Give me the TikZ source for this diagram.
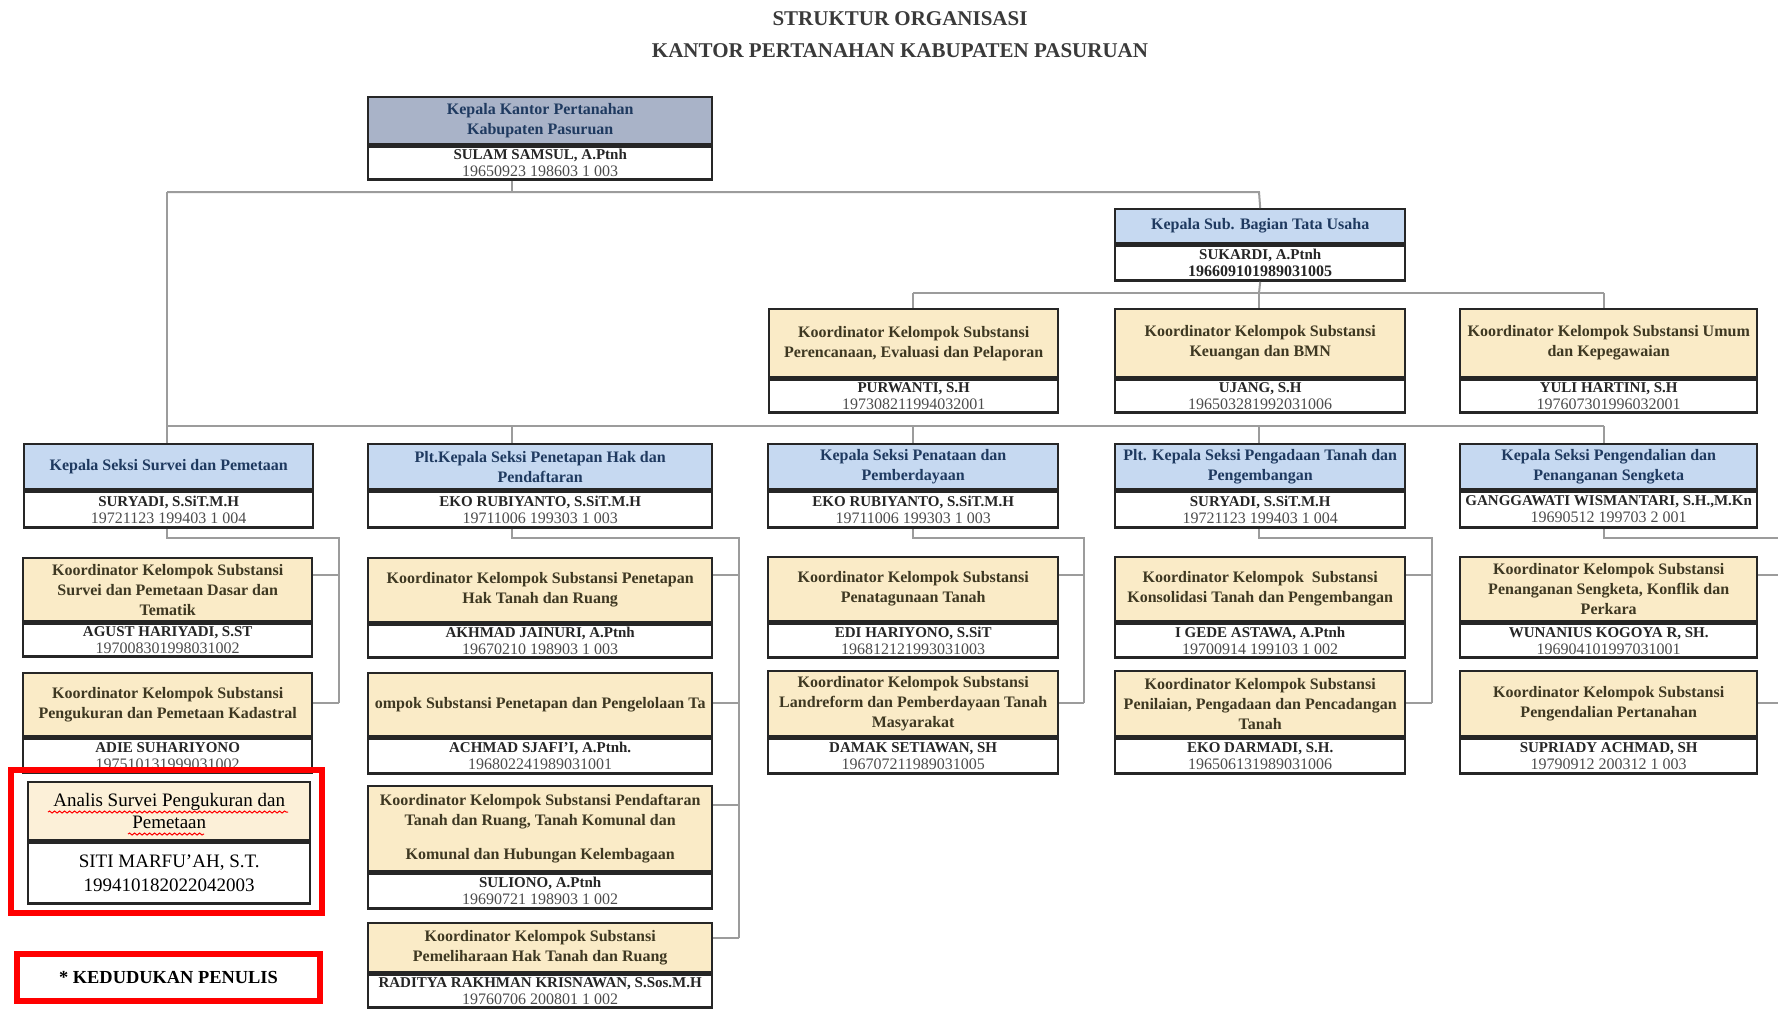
\documentclass[tikz,border=0pt]{standalone}
\usepackage{fontspec}
\setmainfont{Liberation Serif}
\usetikzlibrary{decorations.pathmorphing}

\definecolor{abubiru}{HTML}{A9B3C8}
\definecolor{birumuda}{HTML}{C6D9F1}
\definecolor{krem}{HTML}{FAEBC7}
\definecolor{kremmuda}{HTML}{FCF0D8}
\definecolor{garisabu}{HTML}{9C9C9C}
\definecolor{teksbiru}{HTML}{1F3A60}
\definecolor{tekscoklat}{HTML}{3E3822}
\definecolor{judulabu}{HTML}{3A3A3A}

\def\px{0.5pt}

\tikzset{
	kotak/.style={draw=black!85, line width=1.2pt, inner sep=0pt, align=center},
	kepala/.style={kotak, font=\bfseries\fontsize{8}{10}\selectfont},
	isi/.style={kotak, fill=white, text=black!85, font=\fontsize{8}{8.5}\selectfont},
	biru/.style={fill=birumuda, text=teksbiru},
	abu/.style={fill=abubiru, text=teksbiru},
	kuning/.style={fill=krem, text=tekscoklat},
	garis/.style={draw=garisabu, line width=1pt},
	judul/.style={font=\bfseries\fontsize{10.5}{12}\selectfont, text=judulabu},
	sorot/.style={draw=red, line width=3pt}
}

% id, x, y, lebar, tinggi kepala, tinggi isi, warna, jabatan, pejabat
\newcommand{\jab}[9]{%
	\node[kepala, #7, anchor=north west, minimum width=#4*\px, minimum height=#5*\px] (#1) at (#2,#3) {#8};
	\node[isi, anchor=north, minimum width=#4*\px, minimum height=#6*\px] (#1-n) at (#1.south) {#9};
}
\newcommand{\nama}[2]{{\bfseries\fontsize{7.5}{8.5}\selectfont #1}\\{\color{black!70}#2}}

\begin{document}
\begin{tikzpicture}[x=0.5pt, y=-0.5pt]
	\fill[white] (0,0) rectangle (1778,1008);
	\useasboundingbox (0,0) rectangle (1778,1008);

	\node[judul] (judul1) at (900,19) {STRUKTUR ORGANISASI};
	\node[judul] (judul2) at (900,51) {KANTOR PERTANAHAN KABUPATEN PASURUAN};

	% pimpinan
	\jab{kakan}{367}{96}{344}{47}{33}{abu}{Kepala Kantor Pertanahan\\Kabupaten Pasuruan}{\nama{SULAM SAMSUL, A.Ptnh}{19650923 198603 1 003}}
	\jab{tu}{1114}{208}{290}{34}{35}{biru}{Kepala Sub. Bagian Tata Usaha}{\nama{SUKARDI, A.Ptnh}{\bfseries\color{black!85}196609101989031005}}

	% koordinator tata usaha
	\jab{k1}{768}{308}{289}{68}{33}{kuning}{Koordinator Kelompok Substansi\\Perencanaan, Evaluasi dan Pelaporan}{\nama{PURWANTI, S.H}{197308211994032001}}
	\jab{k2}{1114}{308}{290}{68}{33}{kuning}{Koordinator Kelompok Substansi\\Keuangan dan BMN}{\nama{UJANG, S.H}{196503281992031006}}
	\jab{k3}{1459}{308}{297}{68}{33}{kuning}{Koordinator Kelompok Substansi Umum\\dan Kepegawaian}{\nama{YULI HARTINI, S.H}{197607301996032001}}

	% seksi
	\jab{s1}{23}{443}{289}{45}{36}{biru}{Kepala Seksi Survei dan Pemetaan}{\nama{SURYADI, S.SiT.M.H}{19721123 199403 1 004}}
	\jab{s2}{367}{443}{344}{45}{36}{biru}{Plt.Kepala Seksi Penetapan Hak dan\\Pendaftaran}{\nama{EKO RUBIYANTO, S.SiT.M.H}{19711006 199303 1 003}}
	\jab{s3}{767}{443}{290}{45}{36}{biru}{Kepala Seksi Penataan dan\\Pemberdayaan}{\nama{EKO RUBIYANTO, S.SiT.M.H}{19711006 199303 1 003}}
	\jab{s4}{1114}{443}{290}{45}{36}{biru}{Plt. Kepala Seksi Pengadaan Tanah dan\\Pengembangan}{\nama{SURYADI, S.SiT.M.H}{19721123 199403 1 004}}
	\jab{s5}{1459}{443}{297}{45}{36}{biru}{Kepala Seksi Pengendalian dan\\Penanganan Sengketa}{\nama{GANGGAWATI WISMANTARI, S.H.,M.Kn}{19690512 199703 2 001}}

	% koordinator seksi
	\jab{a1}{22}{557}{289}{63}{33}{kuning}{Koordinator Kelompok Substansi\\Survei dan Pemetaan Dasar dan\\Tematik}{\nama{AGUST HARIYADI, S.ST}{197008301998031002}}
	\jab{a2}{22}{672}{289}{63}{34}{kuning}{Koordinator Kelompok Substansi\\Pengukuran dan Pemetaan Kadastral}{\nama{ADIE SUHARIYONO}{197510131999031002}}
	\jab{b1}{367}{557}{344}{64}{33}{kuning}{Koordinator Kelompok Substansi Penetapan\\Hak Tanah dan Ruang}{\nama{AKHMAD JAINURI, A.Ptnh}{19670210 198903 1 003}}
	\jab{b2}{367}{672}{344}{63}{35}{kuning}{ompok Substansi Penetapan dan Pengelolaan Ta}{\nama{ACHMAD SJAFI'I, A.Ptnh.}{196802241989031001}}
	\jab{b3}{367}{785}{344}{85}{35}{kuning}{Koordinator Kelompok Substansi Pendaftaran\\Tanah dan Ruang, Tanah Komunal dan\\[7pt]Komunal dan Hubungan Kelembagaan}{\nama{SULIONO, A.Ptnh}{19690721 198903 1 002}}
	\jab{b4}{367}{922}{344}{49}{33}{kuning}{Koordinator Kelompok Substansi\\Pemeliharaan Hak Tanah dan Ruang}{\nama{RADITYA RAKHMAN KRISNAWAN, S.Sos.M.H}{19760706 200801 1 002}}
	\jab{c1}{767}{556}{290}{64}{34}{kuning}{Koordinator Kelompok Substansi\\Penatagunaan Tanah}{\nama{EDI HARIYONO, S.SiT}{196812121993031003}}
	\jab{c2}{767}{670}{290}{65}{35}{kuning}{Koordinator Kelompok Substansi\\Landreform dan Pemberdayaan Tanah\\Masyarakat}{\nama{DAMAK SETIAWAN, SH}{196707211989031005}}
	\jab{d1}{1114}{556}{290}{64}{34}{kuning}{Koordinator Kelompok \ Substansi\\Konsolidasi Tanah dan Pengembangan}{\nama{I GEDE ASTAWA, A.Ptnh}{19700914 199103 1 002}}
	\jab{d2}{1114}{670}{290}{65}{35}{kuning}{Koordinator Kelompok Substansi\\Penilaian, Pengadaan dan Pencadangan\\Tanah}{\nama{EKO DARMADI, S.H.}{196506131989031006}}
	\jab{e1}{1459}{556}{297}{64}{34}{kuning}{Koordinator Kelompok Substansi\\Penanganan Sengketa, Konflik dan\\Perkara}{\nama{WUNANIUS KOGOYA R, SH.}{196904101997031001}}
	\jab{e2}{1459}{670}{297}{65}{35}{kuning}{Koordinator Kelompok Substansi\\Pengendalian Pertanahan}{\nama{SUPRIADY ACHMAD, SH}{19790912 200312 1 003}}

	% garis pimpinan
	\coordinate (atas) at (512,192);
	\draw[garis] (kakan-n.south -| atas) -- (atas);
	\draw[garis] (167,192) -- (1259,192) -- (tu.north);
	\draw[garis] (167,192) -- (167,426);
	\draw[garis] (tu-n.south) -- (1259,293);
	\draw[garis] (913,293) -- (1604,293);
	\foreach \k/\x in {k1/913,k2/1259,k3/1604}
		\draw[garis] (\x,293) -- (\k.north -| \x,0);
	\draw[garis] (167,426) -- (1604,426);
	\foreach \s/\x in {s1/167,s2/512,s3/913,s4/1259,s5/1604}
		\draw[garis] (\x,426) -- (\s.north -| \x,0);

	% garis seksi
	\foreach \s/\x/\r/\y in {s1/167/339/703,s2/512/739/938,s3/913/1084/703,s4/1259/1432/703,s5/1604/1800/703}
		\draw[garis] (\s-n.south -| \x,0) |- (\r,538) -- (\r,\y);
	\foreach \b/\r/\y in {a1/339/575,a2/339/703,b1/739/575,b2/739/703,b3/739/805,b4/739/938,c1/1084/575,c2/1084/703,d1/1432/575,d2/1432/703,e1/1800/575,e2/1800/703}
		\draw[garis] (\b.east |- 0,\y) -- (\r,\y);

	% kedudukan penulis
	\node[kotak, fill=kremmuda, anchor=north west, minimum width=282*\px, minimum height=58*\px, font=\fontsize{9.5}{11}\selectfont] (analis) at (27,781) {Analis Survei Pengukuran dan\\Pemetaan};
	\node[kotak, fill=white, anchor=north, minimum width=282*\px, minimum height=61*\px, font=\fontsize{9.5}{12}\selectfont] (analis-n) at (analis.south) {SITI MARFU’AH, S.T.\\199410182022042003};
	\draw[red, line width=0.5pt, decorate, decoration={snake, amplitude=0.5pt, segment length=2.5pt}] (48,812) -- (288,812);
	\draw[red, line width=0.5pt, decorate, decoration={snake, amplitude=0.5pt, segment length=2.5pt}] (128,834) -- (204,834);
	\draw[sorot] (11,770) rectangle (322,913);
	\node[sorot, fill=white, anchor=north west, minimum width=303*\px, minimum height=47*\px, inner sep=0pt, font=\bfseries\fontsize{9.2}{11}\selectfont] (penulis) at (14,951) {* KEDUDUKAN PENULIS};
\end{tikzpicture}
\end{document}
